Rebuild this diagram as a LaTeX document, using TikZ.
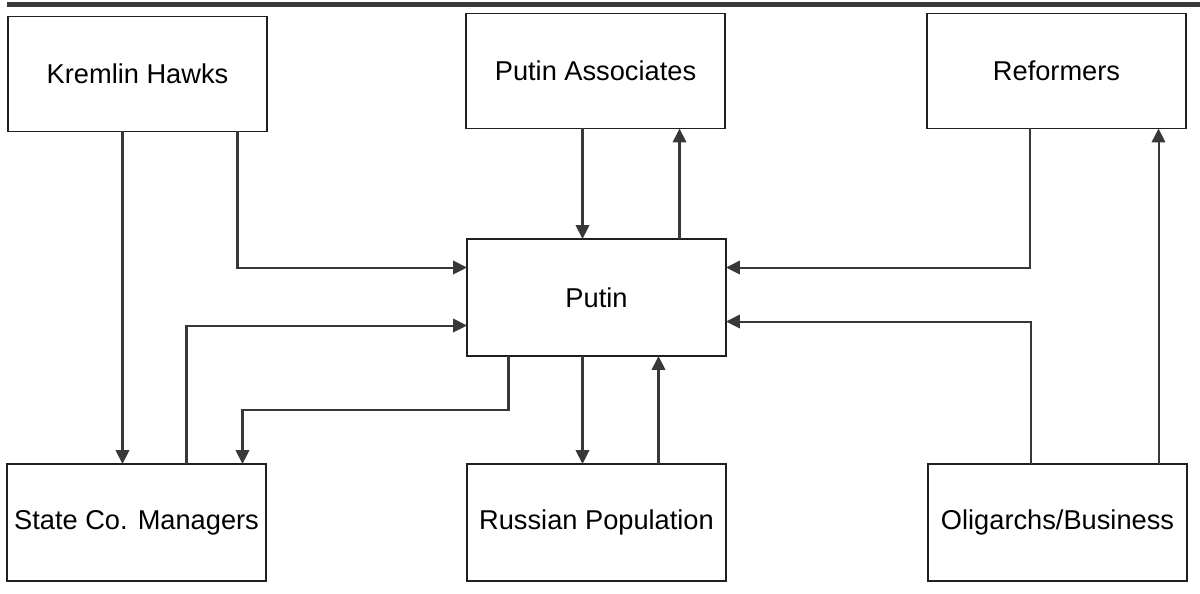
\documentclass[tikz,border=0pt]{standalone}
\usepackage{fontspec}
\setmainfont{Liberation Sans}
\usepackage{xcolor}
\usetikzlibrary{arrows.meta, positioning, calc}

\definecolor{linegrey}{HTML}{383838}
\definecolor{bargrey}{HTML}{3A3A3A}

\begin{document}
\begin{tikzpicture}[
    x=0.02cm, y=-0.02cm,
    actor/.style={draw=black!88, line width=1.1pt, minimum width=5.18cm, minimum height=2.3cm, inner sep=0pt, outer sep=0pt, align=center, fill=white, font=\fontsize{15.5}{18}\selectfont},
    arrow/.style={-{Triangle[length=0.28cm, width=0.27cm]}, draw=linegrey, line width=1.15pt}
]
    \useasboundingbox (0,0) rectangle (1200,593);
    \fill[bargrey] (7,2) rectangle (1200,7);

    % Top row
    \node[actor] (hawks) at (137.5, 74) {Kremlin Hawks};
    \node[actor] (assoc) at (595.5, 71) {Putin Associates};
    \node[actor] (reform) at (1056.5, 71) {Reformers};

    % Centre
    \node[actor, minimum height=2.34cm] (putin) at (596.5, 297.5) {Putin};

    % Bottom row
    \node[actor, minimum height=2.34cm] (managers) at (136.5, 522.5) {State Co. Managers};
    \node[actor, minimum height=2.34cm] (population) at (596.5, 522.5) {Russian Population};
    \node[actor, minimum height=2.34cm] (oligarchs) at (1057.5, 522.5) {Oligarchs/Business};

    % Anchor points on the boxes
    \coordinate (hk1) at ($(hawks.south)+(-15,0)$);
    \coordinate (hk2) at ($(hawks.south)+(100,0)$);
    \coordinate (mg1) at ($(managers.north)+(50,0)$);
    \coordinate (mg2) at ($(managers.north)+(106,0)$);
    \coordinate (pw1) at ($(putin.west)+(0,-30)$);
    \coordinate (pw2) at ($(putin.west)+(0,28)$);
    \coordinate (pe1) at ($(putin.east)+(0,-30)$);
    \coordinate (pe2) at ($(putin.east)+(0,24)$);
    \coordinate (pn1) at ($(putin.north)+(-14,0)$);
    \coordinate (pn2) at ($(putin.north)+(83,0)$);
    \coordinate (ps1) at ($(putin.south)+(-14,0)$);
    \coordinate (ps2) at ($(putin.south)+(62,0)$);
    \coordinate (pb1) at ($(putin.south)+(-88,0)$);
    \coordinate (rf1) at ($(reform.south)+(-27,0)$);
    \coordinate (ol1) at ($(oligarchs.north)+(-27,0)$);
    \coordinate (ol2) at ($(oligarchs.north)+(101,0)$);

    % Left side
    \draw[arrow] (hk1) -- (hk1 |- managers.north);
    \draw[arrow] (hk2) |- (pw1);
    \draw[arrow] (mg1) |- (pw2);
    \draw[arrow] (pb1) -- ++(0,54) -| (mg2);

    % Middle column
    \draw[arrow] (pn1 |- assoc.south) -- (pn1);
    \draw[arrow] (pn2) -- (pn2 |- assoc.south);
    \draw[arrow] (ps1) -- (ps1 |- population.north);
    \draw[arrow] (ps2 |- population.north) -- (ps2);

    % Right side
    \draw[arrow] (rf1) |- (pe1);
    \draw[arrow] (ol1) |- (pe2);
    \draw[arrow] (ol2) -- (ol2 |- reform.south);
\end{tikzpicture}
\end{document}
